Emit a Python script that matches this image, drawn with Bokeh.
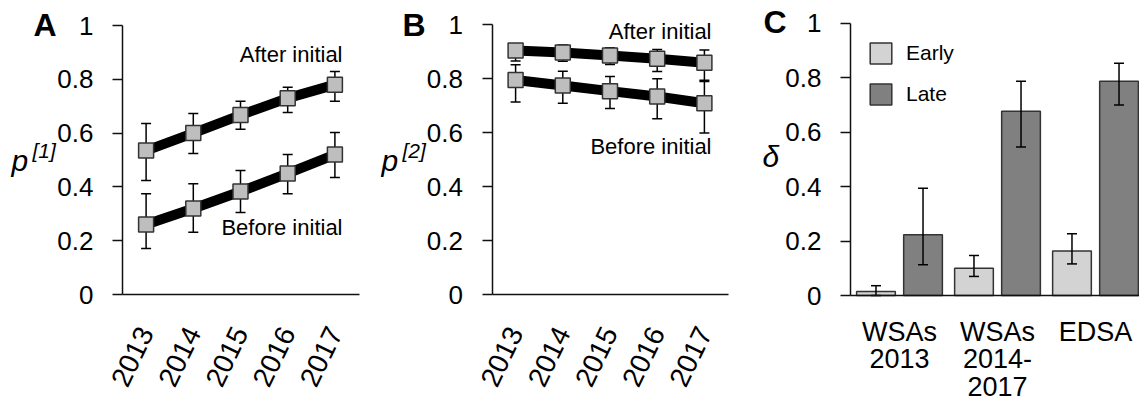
from bokeh.plotting import figure
from bokeh.layouts import row
from bokeh.models import FixedTicker, Label, Range1d, Legend, LegendItem
from bokeh.embed import file_html
from bokeh.resources import INLINE

FONT = "Liberation Sans"

# ---------------- data ----------------
years = [2013, 2014, 2015, 2016, 2017]

# Panel A: p[1]
a_after = [0.535, 0.600, 0.667, 0.730, 0.780]
a_after_lo = [0.424, 0.524, 0.614, 0.677, 0.718]
a_after_hi = [0.636, 0.673, 0.718, 0.770, 0.829]
a_before = [0.260, 0.320, 0.383, 0.450, 0.520]
a_before_lo = [0.171, 0.231, 0.305, 0.375, 0.435]
a_before_hi = [0.375, 0.412, 0.461, 0.520, 0.602]

# Panel B: p[2]
b_after = [0.905, 0.897, 0.886, 0.874, 0.859]
b_after_lo = [0.866, 0.865, 0.853, 0.827, 0.794]
b_after_hi = [0.930, 0.925, 0.915, 0.908, 0.907]
b_before = [0.795, 0.775, 0.754, 0.734, 0.709]
b_before_lo = [0.714, 0.709, 0.690, 0.652, 0.599]
b_before_hi = [0.852, 0.828, 0.808, 0.800, 0.790]

# Panel C: delta
c_groups = ["WSAs\n2013", "WSAs\n2014-\n2017", "EDSA"]
c_early = [0.015, 0.100, 0.163]
c_early_lo = [0.000, 0.070, 0.116]
c_early_hi = [0.036, 0.147, 0.227]
c_late = [0.223, 0.677, 0.787]
c_late_lo = [0.113, 0.545, 0.700]
c_late_hi = [0.394, 0.787, 0.853]

y_ticks = [0, 0.2, 0.4, 0.6, 0.8, 1]
y_tick_labels = ["0", "0.2", "0.4", "0.6", "0.8", "1"]

H = 418


def pix_range(lo_val, lo_px, px_per_unit, size):
    """Range whose value lo_val sits lo_px pixels from the frame's left/bottom."""
    start = lo_val - lo_px / px_per_unit
    return Range1d(start, start + size / px_per_unit)


def make_fig(width, x_range, y_range, x_axis_loc, y_axis_loc, x_bounds):
    p = figure(width=width, height=H, x_range=x_range, y_range=y_range,
               output_backend="svg", toolbar_location=None,
               min_border_left=0, min_border_right=0,
               min_border_top=0, min_border_bottom=0)
    p.outline_line_color = None
    p.grid.visible = False
    for ax in (p.xaxis[0], p.yaxis[0]):
        ax.axis_line_width = 1.5
        ax.axis_line_color = "#111111"
        ax.major_tick_line_color = "#111111"
        ax.major_tick_line_width = 1.5
        ax.minor_tick_out = 0
        ax.minor_tick_in = 0
        ax.major_tick_in = 0
        ax.major_label_text_font = FONT
        ax.major_label_text_color = "#000000"
    yax = p.yaxis[0]
    yax.fixed_location = y_axis_loc
    yax.bounds = (0, 1)
    yax.ticker = FixedTicker(ticks=y_ticks)
    yax.major_label_overrides = dict(zip(y_ticks, y_tick_labels))
    yax.major_tick_out = 10
    yax.major_label_text_font_size = "26px"
    yax.major_label_standoff = 19
    xax = p.xaxis[0]
    xax.fixed_location = x_axis_loc
    xax.bounds = x_bounds
    xax.major_tick_out = 0
    return p


def add_label(p, x, base_px, text, size_px, style="normal", align="left"):
    # base_px: wanted baseline, in pixels from the top of the figure
    y = H - base_px + 0.4 * size_px
    p.add_layout(Label(x=x, y=y, x_units="screen", y_units="screen", text=text,
                       text_font=FONT, text_font_size=f"{size_px}px",
                       text_font_style=style, text_align=align,
                       text_baseline="alphabetic", text_color="#000000"))


def add_errors(p, xs, lo, hi):
    p.segment(x0=xs, y0=lo, x1=xs, y1=hi, line_color="#000000", line_width=1.5)
    p.scatter(xs, hi, marker="dash", size=10, line_color="#000000", line_width=1.5)
    p.scatter(xs, lo, marker="dash", size=10, line_color="#000000", line_width=1.5)


def line_panel(width, axis_px, top_px, series):
    x_range = pix_range(2012.5, axis_px, 47.2, width)
    y_range = pix_range(0, H - 294, 294 - top_px, H)
    p = make_fig(width, x_range, y_range, 0, 2012.5, (2012.5, 2017.52))
    xax = p.xaxis[0]
    xax.ticker = FixedTicker(ticks=years)
    xax.major_label_orientation = 1.12
    xax.major_label_text_font_size = "28px"
    xax.major_label_standoff = 34
    for vals, lo, hi in series:
        add_errors(p, years, lo, hi)
    for vals, lo, hi in series:
        p.line(years, vals, line_color="#000000", line_width=10)
    for vals, lo, hi in series:
        p.scatter(years, vals, marker="square", size=15, fill_color="#bebebe",
                  line_color="#333333", line_width=1.5)
    return p


# ---------------- Panel A ----------------
pa = line_panel(380, 122, 25,
                [(a_after, a_after_lo, a_after_hi), (a_before, a_before_lo, a_before_hi)])
add_label(pa, 33, 37, "A", 32, "bold")
add_label(pa, 11, 172, "p", 30, "italic")
add_label(pa, 32, 158, "[1]", 21, "italic")
add_label(pa, 342, 63, "After initial", 22, align="right")
add_label(pa, 342, 236, "Before initial", 22, align="right")

# ---------------- Panel B ----------------
pb = line_panel(380, 111.5, 24.3,
                [(b_after, b_after_lo, b_after_hi), (b_before, b_before_lo, b_before_hi)])
add_label(pb, 22, 37, "B", 32, "bold")
add_label(pb, 1, 172, "p", 30, "italic")
add_label(pb, 22, 158, "[2]", 21, "italic")
add_label(pb, 331, 40, "After initial", 22, align="right")
add_label(pb, 331, 155, "Before initial", 22, align="right")

# ---------------- Panel C ----------------
idx = list(range(len(c_groups)))
cx_range = pix_range(-0.5, 90, 98, 379)
cy_range = pix_range(0, H - 295, 295 - 22.7, H)
pc = make_fig(379, cx_range, cy_range, 0, -0.5, (-0.5, 2.46))
x_early = [i - 0.24 for i in idx]
x_late = [i + 0.24 for i in idx]
r_early = pc.vbar(x=x_early, top=c_early, bottom=0, width=0.395, fill_color="#d3d3d3",
                  line_color="#333333", line_width=1.5)
r_late = pc.vbar(x=x_late, top=c_late, bottom=0, width=0.395, fill_color="#808080",
                 line_color="#333333", line_width=1.5)
add_errors(pc, x_early, c_early_lo, c_early_hi)
add_errors(pc, x_late, c_late_lo, c_late_hi)

cx = pc.xaxis[0]
cx.ticker = FixedTicker(ticks=idx)
cx.major_label_overrides = dict(zip(idx, c_groups))
cx.major_label_text_font_size = "27px"
cx.major_label_text_line_height = 0.92
cx.major_label_standoff = 21

legend = Legend(items=[LegendItem(label="Early", renderers=[r_early]),
                       LegendItem(label="Late", renderers=[r_late])],
                location=(107, 311), margin=0, padding=0, spacing=15,
                glyph_width=27, glyph_height=26, label_standoff=12,
                label_text_font=FONT, label_text_font_size="21px",
                label_text_color="#000000",
                border_line_color=None, background_fill_alpha=0)
pc.add_layout(legend)
add_label(pc, 3, 34, "C", 32, "bold")
add_label(pc, 2, 168, "δ", 30, "italic")

layout = row(pa, pb, pc)
open("out.html", "w").write(file_html(layout, INLINE))
